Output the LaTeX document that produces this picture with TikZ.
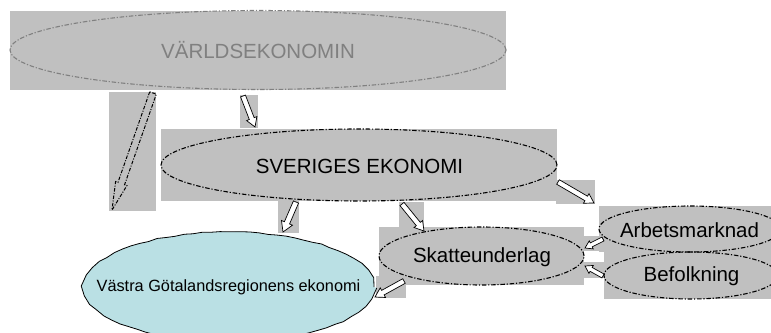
\documentclass[tikz,border=0pt]{standalone}
\usepackage{fontspec}
\setmainfont{Liberation Sans}
\usetikzlibrary{shapes.geometric,calc,backgrounds,decorations.pathmorphing}
\definecolor{boxgray}{HTML}{C0C0C0}
\definecolor{midgray}{HTML}{808080}
\definecolor{vgcyan}{HTML}{BAE0E4}
\tikzset{
  ell/.style={ellipse, inner sep=0pt, outer sep=0pt, draw=black, line width=1.1pt,
    dash pattern=on 4.5pt off 1.8pt on 1.2pt off 1.8pt},
  worldell/.style={ell, draw=midgray},
  regionell/.style={ellipse, inner sep=0pt, outer sep=0pt, draw=black, line width=0.8pt,
    fill=vgcyan,
    decorate, decoration={random steps, segment length=9pt, amplitude=0.6pt}},
  lbl/.style={inner sep=0pt, font=\fontsize{20.5}{24}\selectfont},
  worldlbl/.style={lbl, text=midgray},
  regionlbl/.style={inner sep=0pt, font=\fontsize{16.3}{20}\selectfont},
  graybox/.style={fill=boxgray, draw=none},
  blockar/.style={draw=black, fill=white, line width=0.7pt, line join=miter},
  dashblockar/.style={draw=black, fill=none, line width=1pt,
    dash pattern=on 3.5pt off 1.5pt on 1pt off 1.5pt},
}
% \barrow[style]{from}{to}{shaft half width}{head half width}{head length}
\newcommand\barrow[6][]{%
  \path let \p1=(#2), \p2=(#3) in \pgfextra{%
    \pgfmathsetmacro\tmpang{atan2(\y2-\y1,\x2-\x1)}%
    \pgfmathsetmacro\tmplen{veclen(\x2-\x1,\y2-\y1)}%
    \xdef\bang{\tmpang}\xdef\blen{\tmplen}};
  \draw[blockar,#1,shift={(#2)},rotate=\bang]
    (0,#4) -- ({\blen-#6},#4) -- ({\blen-#6},#5) -- (\blen,0)
    -- ({\blen-#6},-#5) -- ({\blen-#6},-#4) -- (0,-#4) -- cycle;
}
\newcommand\bgbox[1]{\fill[graybox] (#1.west |- #1.north) rectangle (#1.east |- #1.south);}
\begin{document}
\begin{tikzpicture}[x=1pt,y=-1pt]
\useasboundingbox (0,0) rectangle (771,332);
\clip (0,0) rectangle (771,332);

% ellipses
\node[worldell, minimum width=496pt, minimum height=79pt] (W) at (258,50) {};
\node[ell, minimum width=396pt, minimum height=72pt] (S) at (359,165) {};
\node[ell, minimum width=205pt, minimum height=58pt] (K) at (481.5,256) {};
\node[ell, minimum width=182pt, minimum height=46pt] (A) at (690,229) {};
\node[ell, minimum width=174pt, minimum height=47pt] (B) at (691,275.5) {};
\node[regionell, minimum width=290pt, minimum height=110pt] (V) at (229,287) {};

% texts
\node[worldlbl] (Wt) at (258,50) {VÄRLDSEKONOMIN};
\node[lbl] (St) at (359.5,166) {SVERIGES EKONOMI};
\node[lbl] (Kt) at (482,257) {Skatteunderlag};
\node[lbl] (At) at (689.5,230) {Arbetsmarknad};
\node[lbl] (Bt) at (691.5,276) {Befolkning};
\node[regionlbl] (Vt) at (228.5,287) {Västra Götalandsregionens ekonomi};

% arrow end points
\coordinate (ws0) at (243,96);   \coordinate (ws1) at (255,127);
\coordinate (wv0) at (153,93);   \coordinate (wv1) at (112,210);
\coordinate (sv0) at (296,202);  \coordinate (sv1) at (283,232);
\coordinate (sk0) at (402,204);  \coordinate (sk1) at (424,231);
\coordinate (sa0) at (558,182);  \coordinate (sa1) at (594,203);
\coordinate (ak0) at (603,239);  \coordinate (ak1) at (585,248);
\coordinate (bk0) at (603,276);  \coordinate (bk1) at (585,266);
\coordinate (kv0) at (404,281);  \coordinate (kv1) at (375,297);

% gray backgrounds
\begin{scope}[on background layer]
  \bgbox{W}\bgbox{S}\bgbox{K}\bgbox{A}\bgbox{B}
  \fill[graybox] (240,95) rectangle (258,128);
  \fill[graybox] (109,92) rectangle (156,211);
  \fill[graybox] (278,200) rectangle (299,233);
  \fill[graybox] (399,202) rectangle (424,231);
  \fill[graybox] (556,180) rectangle (595,204);
  \fill[graybox] (584,236) rectangle (605,251);
  \fill[graybox] (584,262) rectangle (605,278);
  \fill[graybox] (376,276) rectangle (406,298);
\end{scope}

% block arrows
\barrow{ws0}{ws1}{2.6}{5.5}{9}
\barrow[dashblockar]{wv0}{wv1}{3.5}{6}{28}
\barrow{sv0}{sv1}{2.8}{6}{10}
\barrow{sk0}{sk1}{2.6}{5.5}{9}
\barrow{sa0}{sa1}{2.6}{5.5}{9}
\barrow{ak0}{ak1}{2.2}{4.5}{7}
\barrow{bk0}{bk1}{2.2}{4.5}{7}
\barrow{kv0}{kv1}{2.6}{5.5}{9}
\end{tikzpicture}
\end{document}
